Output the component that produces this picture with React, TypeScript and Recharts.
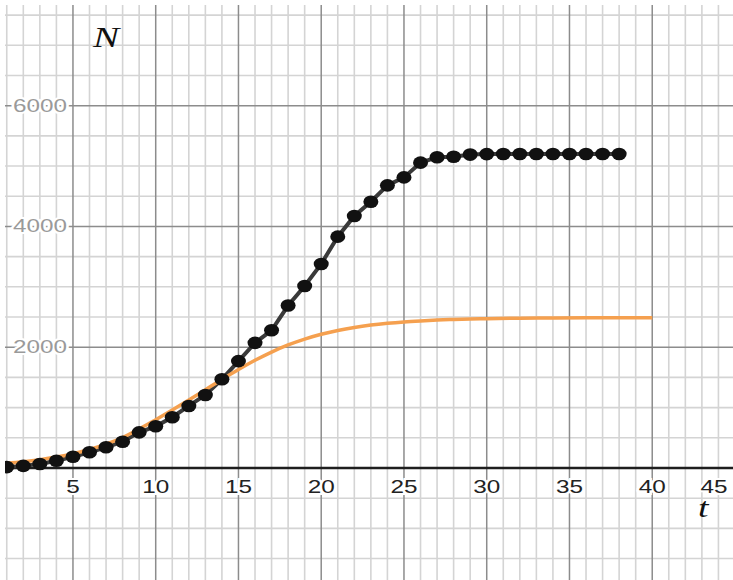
import React from 'react'
import { LineChart, Line, XAxis, YAxis, ReferenceLine, ReferenceDot } from 'recharts'

// observed counts, one per time step
const obsT = [1, 2, 3, 4, 5, 6, 7, 8, 9, 10, 11, 12, 13, 14, 15, 16, 17, 18, 19, 20, 21, 22, 23, 24, 25, 26, 27, 28, 29, 30, 31, 32, 33, 34, 35, 36, 37, 38]
const obsN = [15, 35, 65, 120, 185, 260, 343, 435, 590, 690, 840, 1027, 1209, 1469, 1770, 2072, 2280, 2690, 3014, 3378, 3831, 4173, 4410, 4680, 4812, 5056, 5145, 5155, 5190, 5198, 5200, 5200, 5200, 5200, 5200, 5200, 5200, 5200]

// logistic model curve
const modelT = [0, 1, 2, 3, 4, 5, 6, 7, 8, 9, 10, 11, 12, 13, 14, 15, 16, 17, 18, 19, 20, 21, 22, 23, 24, 25, 26, 27, 28, 29, 30, 32, 34, 36, 38, 40]
const modelN = [60, 80, 105, 138, 181, 236, 306, 395, 505, 645, 800, 960, 1125, 1295, 1465, 1630, 1783, 1920, 2037, 2134, 2214, 2277, 2327, 2366, 2396, 2419, 2436, 2450, 2459, 2467, 2473, 2480, 2484, 2487, 2488, 2489]

const xTicks = [5, 10, 15, 20, 25, 30, 35, 40, 45]
const yTicks = [2000, 4000, 6000]

const minorT = Array.from({ length: 44 }, (_, i) => i + 1).filter((t) => t % 5 !== 0)
const majorT = [5, 10, 15, 20, 25, 30, 35, 40]
const minorN = Array.from({ length: 19 }, (_, i) => -1500 + i * 500).filter((n) => n % 2000 !== 0)
const majorN = [2000, 4000, 6000]

const obsData = obsT.map((t, i) => ({ t, n: obsN[i] }))
const modelData = modelT.map((t, i) => ({ t, n: modelN[i] }))

const W = 733
const H = 580
const FONT = '"Liberation Sans", Arial, sans-serif'
const STRETCH = 1.35

function YTick({ viewBox, text }: any) {
  const { x, y } = viewBox
  return (
    <g transform={`translate(${x + 62},${y}) scale(${STRETCH},1)`}>
      <text
        x={0}
        y={0}
        textAnchor="end"
        dominantBaseline="central"
        fontFamily={FONT}
        fontSize={18}
        fill="#9a9a9a"
        stroke="#fff"
        strokeWidth={4}
        paintOrder="stroke"
      >
        {text}
      </text>
    </g>
  )
}

function XTick({ viewBox, text }: any) {
  const cx = Math.min(viewBox.x, W - 19)
  return (
    <g transform={`translate(${cx},${viewBox.y + 19}) scale(${STRETCH},1)`}>
      <text
        x={0}
        y={0}
        textAnchor="middle"
        dominantBaseline="central"
        fontFamily={FONT}
        fontSize={18}
        fill="#222"
        stroke="#fff"
        strokeWidth={4}
        paintOrder="stroke"
      >
        {text}
      </text>
    </g>
  )
}

function ObsDot({ cx, cy, index }: any) {
  return <ellipse key={`d-${index}`} cx={cx} cy={cy} rx={7.5} ry={6.3} fill="#111" />
}

export default function App() {
  return (
    <div style={{ position: 'absolute', left: 0, top: 0, width: W, height: H, background: '#fff' }}>
      <LineChart width={W} height={H} margin={{ top: 5, left: 5, right: 0, bottom: 0 }}>
        <XAxis type="number" dataKey="t" domain={[0.894, 44.88]} allowDataOverflow hide />
        <YAxis type="number" dataKey="n" domain={[-1855, 7667]} allowDataOverflow hide />

        {minorT.map((t) => (
          <ReferenceLine key={`mt-${t}`} x={t} stroke="#d4d4d4" strokeWidth={1.6} />
        ))}
        {minorN.map((n) => (
          <ReferenceLine key={`mn-${n}`} y={n} stroke="#d4d4d4" strokeWidth={1.6} />
        ))}
        {majorT.map((t) => (
          <ReferenceLine key={`jt-${t}`} x={t} stroke="#8c8c8c" strokeWidth={1.5} />
        ))}
        {majorN.map((n, i) => (
          <ReferenceLine
            key={`jn-${n}`}
            y={n}
            stroke="#8c8c8c"
            strokeWidth={1.5}
            label={<YTick text={String(yTicks[i])} />}
          />
        ))}
        <ReferenceLine y={0} stroke="#1e1e1e" strokeWidth={2.5} />

        <Line
          data={obsData}
          dataKey="n"
          type="linear"
          stroke="#3a3a3a"
          strokeWidth={4}
          dot={<ObsDot />}
          isAnimationActive={false}
        />
        <Line
          data={modelData}
          dataKey="n"
          type="monotone"
          stroke="#f5a04f"
          strokeWidth={3.5}
          dot={false}
          isAnimationActive={false}
        />

        {xTicks.map((t) => (
          <ReferenceDot
            key={`xl-${t}`}
            x={t}
            y={0}
            r={0}
            fill="none"
            stroke="none"
            ifOverflow="visible"
            label={<XTick text={String(t)} />}
          />
        ))}
      </LineChart>
      <svg width={W} height={H} style={{ position: 'absolute', left: 0, top: 0, pointerEvents: 'none' }}>
        <g transform={`translate(93,47) scale(${STRETCH},1)`}>
          <text x={0} y={0} fontFamily='"Liberation Serif", serif' fontStyle="italic" fontSize={29} fill="#111">
            N
          </text>
        </g>
        <g transform={`translate(698,517) scale(${STRETCH},1)`}>
          <text x={0} y={0} fontFamily='"Liberation Serif", serif' fontStyle="italic" fontSize={28} fill="#111">
            t
          </text>
        </g>
      </svg>
    </div>
  )
}
